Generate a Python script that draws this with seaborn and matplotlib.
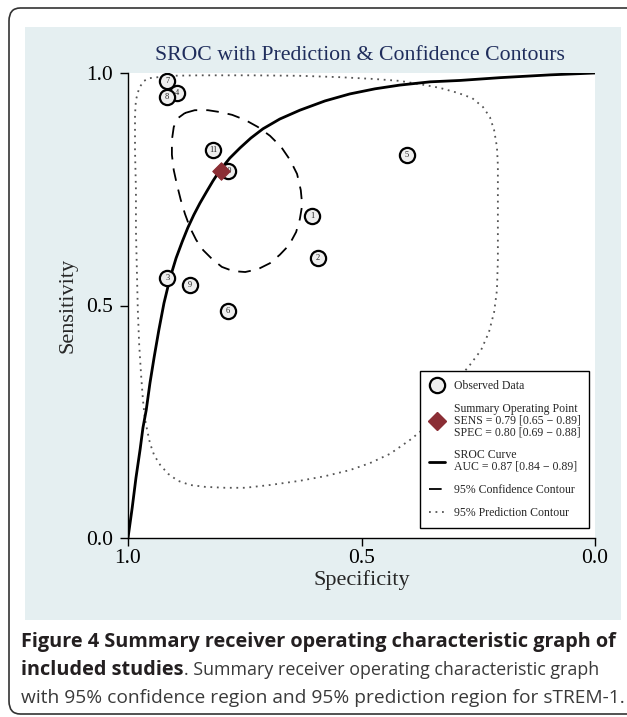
import numpy as np
import pandas as pd
import seaborn as sns
import matplotlib.pyplot as plt
from matplotlib.lines import Line2D
from matplotlib.patches import Rectangle, FancyBboxPatch

# observed studies (specificity, sensitivity)
study_ids = ["1", "2", "3", "4", "5", "6", "7", "8", "9", "10", "11"]
study_spec = [0.606, 0.593, 0.916, 0.895, 0.403, 0.786, 0.916, 0.916, 0.867, 0.786, 0.818]
study_sens = [0.692, 0.602, 0.559, 0.957, 0.824, 0.488, 0.983, 0.948, 0.544, 0.789, 0.834]

# summary operating point
summary_spec = [0.80]
summary_sens = [0.79]

# SROC curve
sroc_spec = [1.000, 0.991, 0.983, 0.974, 0.968, 0.961, 0.953, 0.944, 0.934, 0.923, 0.910,
             0.897, 0.884, 0.872, 0.859, 0.846, 0.831, 0.818, 0.803, 0.782, 0.760, 0.737,
             0.711, 0.675, 0.632, 0.578, 0.525, 0.471, 0.418, 0.353, 0.289, 0.203, 0.096, 0.000]
sroc_sens = [0.000, 0.065, 0.129, 0.191, 0.237, 0.275, 0.333, 0.389, 0.447, 0.505, 0.559,
             0.602, 0.637, 0.667, 0.695, 0.720, 0.746, 0.768, 0.791, 0.817, 0.839, 0.860,
             0.880, 0.901, 0.920, 0.940, 0.955, 0.966, 0.974, 0.981, 0.984, 0.990, 0.996, 1.000]

# 95% confidence contour
conf_spec = [0.878, 0.857, 0.829, 0.803, 0.777, 0.749, 0.722, 0.696, 0.672, 0.653, 0.638, 0.630,
             0.627, 0.632, 0.640, 0.655, 0.675, 0.696, 0.722, 0.749, 0.775, 0.799, 0.820, 0.839,
             0.854, 0.867, 0.878, 0.887, 0.895, 0.902, 0.906, 0.906, 0.902, 0.893, 0.878]
conf_sens = [0.914, 0.920, 0.920, 0.916, 0.910, 0.899, 0.884, 0.865, 0.841, 0.813, 0.783, 0.748,
             0.716, 0.686, 0.658, 0.630, 0.609, 0.591, 0.578, 0.572, 0.574, 0.583, 0.600, 0.619,
             0.641, 0.667, 0.697, 0.727, 0.759, 0.791, 0.824, 0.856, 0.884, 0.903, 0.914]

# 95% prediction contour
pred_spec = [0.953, 0.910, 0.846, 0.739, 0.632, 0.546, 0.471, 0.418, 0.375, 0.332, 0.293, 0.263,
             0.240, 0.225, 0.216, 0.210, 0.208, 0.208, 0.208, 0.208, 0.210, 0.216, 0.227, 0.244,
             0.268, 0.293, 0.332, 0.364, 0.396, 0.439, 0.482, 0.525, 0.578, 0.632, 0.696, 0.749,
             0.792, 0.835, 0.867, 0.893, 0.914, 0.931, 0.944, 0.953, 0.959, 0.964, 0.968, 0.972,
             0.976, 0.979, 0.981, 0.983, 0.983, 0.985, 0.985, 0.983, 0.976, 0.966, 0.953]
pred_sens = [0.989, 0.994, 0.995, 0.995, 0.994, 0.991, 0.987, 0.983, 0.976, 0.968, 0.957, 0.946,
             0.927, 0.905, 0.877, 0.841, 0.802, 0.748, 0.662, 0.598, 0.533, 0.486, 0.443, 0.404,
             0.372, 0.342, 0.271, 0.237, 0.211, 0.181, 0.161, 0.146, 0.133, 0.123, 0.114, 0.108,
             0.108, 0.110, 0.114, 0.123, 0.138, 0.157, 0.178, 0.204, 0.232, 0.258, 0.297, 0.351,
             0.415, 0.490, 0.576, 0.662, 0.748, 0.834, 0.910, 0.942, 0.968, 0.983, 0.989]

tick_vals = [0.0, 0.5, 1.0]
tick_labels = ["0.0", "0.5", "1.0"]

legend_labels = ["Observed Data",
                 "Summary Operating Point\nSENS = 0.79 [0.65 \u2212 0.89]\nSPEC = 0.80 [0.69 \u2212 0.88]",
                 "SROC Curve\nAUC = 0.87 [0.84 \u2212 0.89]",
                 "95% Confidence Contour",
                 "95% Prediction Contour"]

sns.set_style("ticks")
plt.rcParams['font.family'] = ['Liberation Serif', 'DejaVu Serif']

W, H = 627, 717
fig = plt.figure(figsize=(W / 100, H / 100), dpi=100)

# outer rounded frame and light panel (behind the axes)
frame = FancyBboxPatch((9 / W, 1 - 714 / H), 640 / W, 706 / H,
                       boxstyle="round,pad=0,rounding_size=0.018",
                       transform=fig.transFigure, fc='white', ec='#333333', lw=1.2, zorder=-3)
fig.patches.append(frame)
panel = Rectangle((25 / W, 1 - 620 / H), 596 / W, 593 / H, transform=fig.transFigure,
                  fc='#e5eff1', ec='none', zorder=-2)
fig.patches.append(panel)

ax = fig.add_axes([128 / W, 1 - 538 / H, 467 / W, 465 / H])
ax.set_facecolor('white')

# contours and curve
sns.lineplot(x=pred_spec, y=pred_sens, sort=False, estimator=None, ax=ax,
             color='#555555', lw=1.3, linestyle=(0, (1, 2.6)))
sns.lineplot(x=conf_spec, y=conf_sens, sort=False, estimator=None, ax=ax,
             color='black', lw=1.3, linestyle=(0, (7, 5)))
sns.lineplot(x=sroc_spec, y=sroc_sens, sort=False, estimator=None, ax=ax,
             color='black', lw=2.0)

# observed studies
sns.scatterplot(x=study_spec, y=study_sens, ax=ax, s=120, color='#eeeeee',
                edgecolor='black', linewidth=1.6, zorder=4)
for sid, sx, sy in zip(study_ids, study_spec, study_sens):
    ax.text(sx, sy, sid, ha='center', va='center', fontsize=6, color='#222222', zorder=5)

# summary point
sns.scatterplot(x=summary_spec, y=summary_sens, ax=ax, marker='D', s=80,
                color='#8b2e35', edgecolor='#8b2e35', zorder=6)

ax.set_xlim(1.0, 0.0)
ax.set_ylim(0.0, 1.0)
ax.set_xticks(tick_vals)
ax.set_xticklabels(tick_labels)
ax.set_yticks(tick_vals)
ax.set_yticklabels(tick_labels)
ax.tick_params(direction='out', length=6, width=1, labelsize=15.5, pad=2, colors='black')
ax.tick_params(axis='y', pad=5)
for side in ['top', 'right']:
    ax.spines[side].set_visible(False)
for side in ['left', 'bottom']:
    ax.spines[side].set_linewidth(1.0)
    ax.spines[side].set_color('black')

ax.set_xlabel("Specificity", fontsize=16)
ax.set_ylabel("Sensitivity", fontsize=16)
ax.xaxis.set_label_coords(0.5, -0.068)
ax.yaxis.set_label_coords(-0.109, 0.5)

fig.text(360 / W, 1 - 55 / H, "SROC with Prediction & Confidence Contours",
         ha='center', va='center', fontsize=15.7, color='#1f2d5c')

handles = [
    Line2D([], [], ls='none', marker='o', ms=11, mfc='#eeeeee', mec='black', mew=1.6),
    Line2D([], [], ls='none', marker='D', ms=9, mfc='#8b2e35', mec='#8b2e35'),
    Line2D([], [], color='black', lw=2.0),
    Line2D([], [], color='black', lw=1.3, linestyle=(0, (7, 5))),
    Line2D([], [], color='#555555', lw=1.3, linestyle=(0, (1, 2.6))),
]
leg = ax.legend(handles, legend_labels, loc='lower left', bbox_to_anchor=(0.625, 0.021),
                fontsize=8.5, frameon=True, fancybox=False, edgecolor='black',
                framealpha=1, handlelength=1.4, handletextpad=0.7, labelspacing=0.95,
                borderpad=0.75, borderaxespad=0)
leg.get_frame().set_linewidth(1.0)
for t in leg.get_texts():
    t.set_linespacing(0.95)

# caption with bold lead-in
fam = ['Open Sans', 'DejaVu Sans']
fig.text(21 / W, 1 - 642 / H, "Figure 4 Summary receiver operating characteristic graph of",
         weight='bold', color='#231f20', fontsize=14.3, va='center', family=fam)
t_bold = fig.text(21 / W, 1 - 670 / H, "included studies", weight='bold', color='#231f20',
                  fontsize=14.3, va='center', family=fam)
fig.canvas.draw()
bb = t_bold.get_window_extent(fig.canvas.get_renderer())
fig.text(bb.x1 / W, 1 - 670 / H, ". Summary receiver operating characteristic graph",
         color='#3a3a3a', fontsize=12.9, va='center', family=fam)
fig.text(21 / W, 1 - 698 / H, "with 95% confidence region and 95% prediction region for sTREM-1.",
         color='#3a3a3a', fontsize=13.75, va='center', family=fam)

fig.savefig("out.png", dpi=100)
